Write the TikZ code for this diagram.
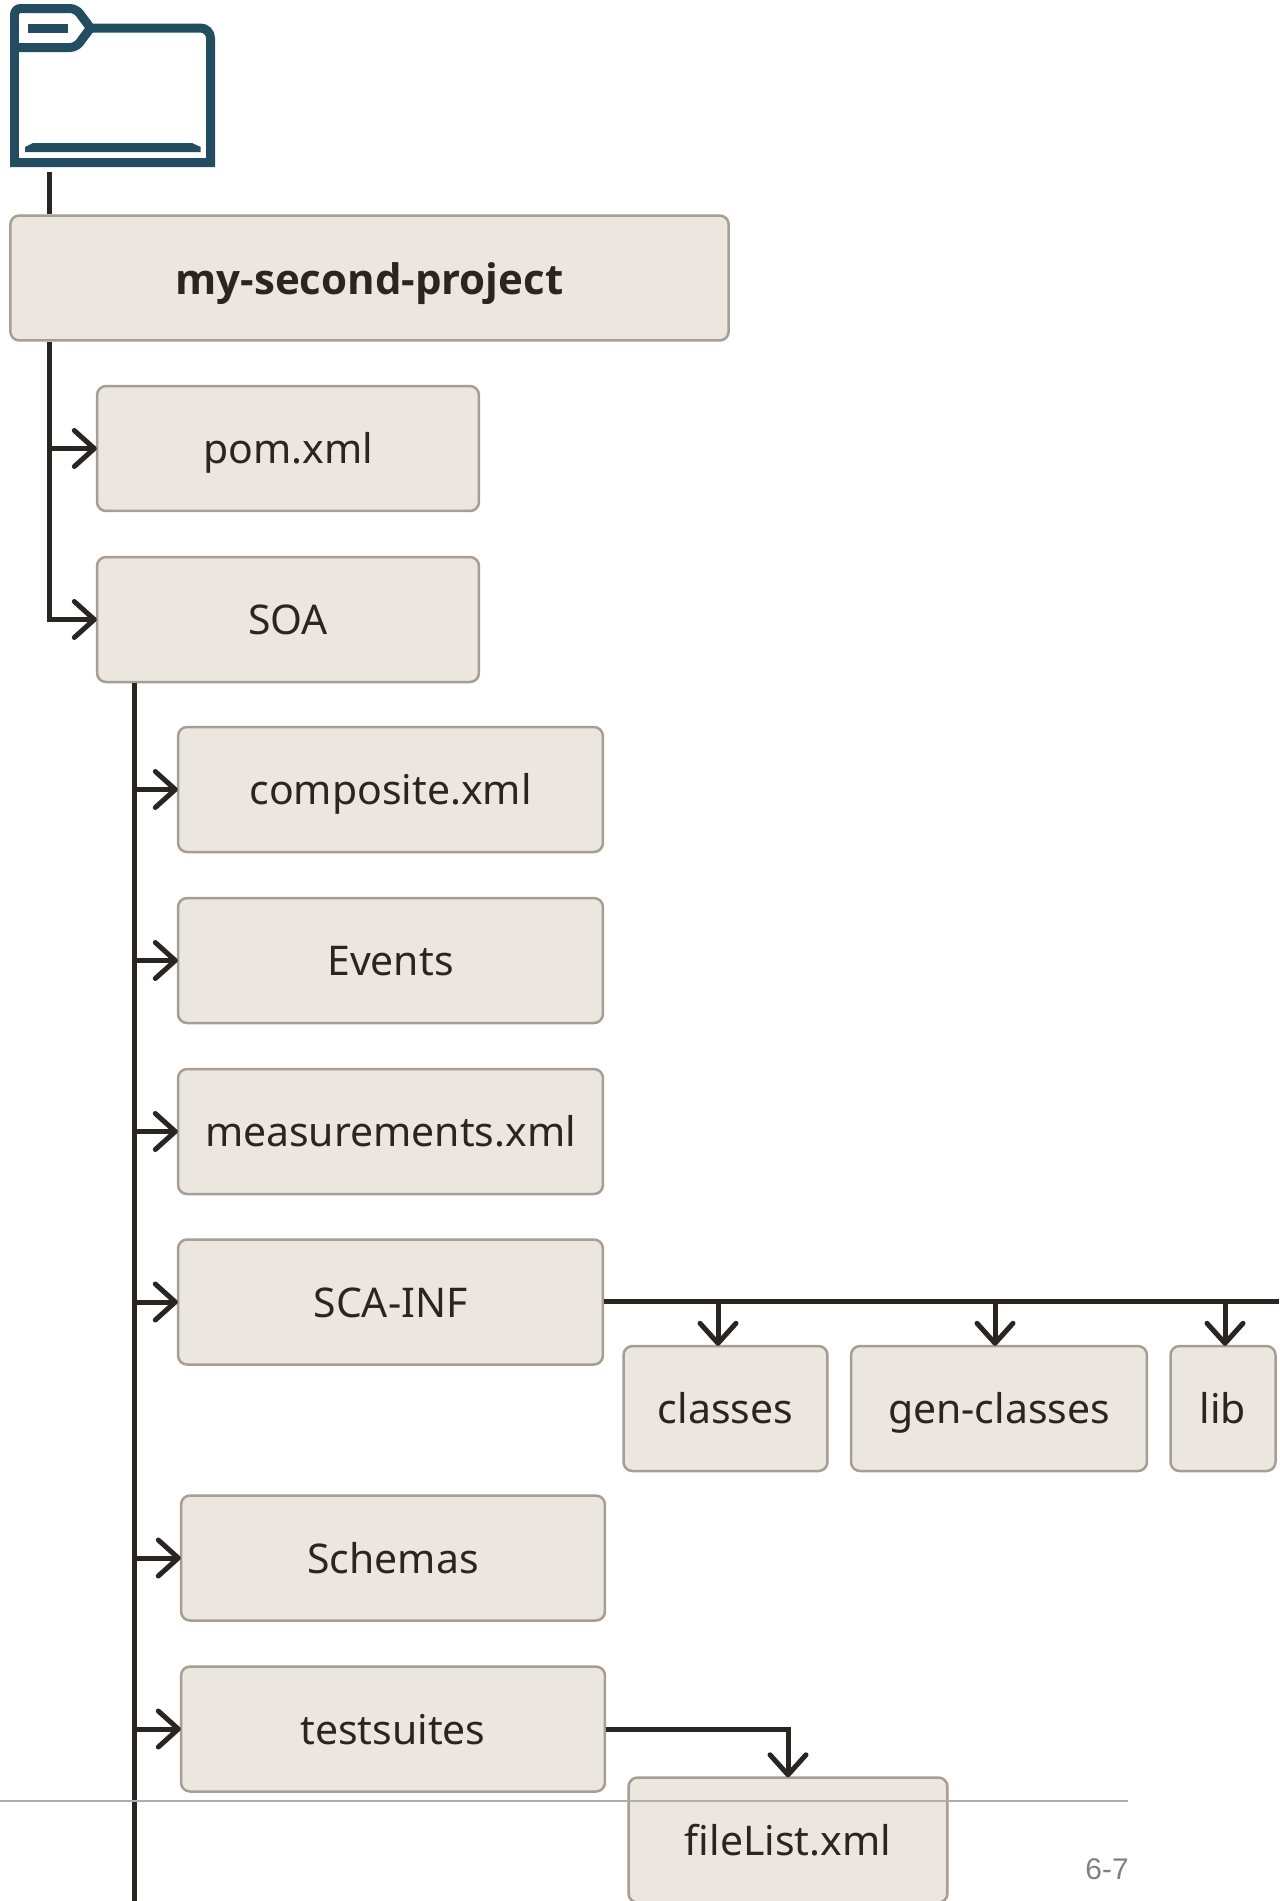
\documentclass[tikz,border=0pt]{standalone}
\usepackage{fontspec}
\setmainfont{Noto Sans}
\newfontfamily\titlefont{Open Sans}
\newfontfamily\pagefont{Liberation Sans}
\usetikzlibrary{arrows.meta}
\definecolor{boxfill}{HTML}{EBE6E0}
\definecolor{boxline}{HTML}{A89D92}
\definecolor{connline}{HTML}{2B2522}
\definecolor{foldercol}{HTML}{234E62}
\definecolor{ruleline}{HTML}{ADADAD}
\tikzset{
	box/.style={draw=boxline, fill=boxfill, line width=0.05cm, rounded corners=0.18cm, inner sep=0pt, text=connline, text height=18.6pt, text depth=1pt, font=\fontsize{23.3}{28}\selectfont},
	conn/.style={draw=connline, line width=0.1cm},
	connarrow/.style={conn, -{Straight Barb[length=0.4cm, width=0.72cm, line width=0.1cm, round]}, shorten >=-0.02cm}
}
\begin{document}
\begin{tikzpicture}[x=0.02cm, y=-0.02cm]
		\useasboundingbox (0,0) rectangle (1279,1901);
		\draw[foldercol, line width=0.18cm, fill=white, line join=miter] (14.5,162.5) [rounded corners=0.12cm] -- (14.5,8.5) -- (76,8.5) -- (86,22) [sharp corners] -- (90.5,28) -- (190,28) [rounded corners=0.2cm] -- (210.5,28) -- (210.5,50) [sharp corners] -- (210.5,162.5) -- cycle;
		\draw[foldercol, line width=0.18cm, line join=miter] (14.5,47.5) [rounded corners=0.12cm] -- (76,47.5) -- (86,34) [sharp corners] -- (90.5,28);
		\fill[foldercol] (28,24) rectangle (68,33);
		\fill[foldercol] (25,152) -- (25,147) -- (33,143) -- (192,143) -- (200.7,147) -- (200.7,152) -- cycle;

		\draw (369.5,278) node[box, minimum width=14.37cm, minimum height=2.5cm, text height=20pt, text depth=0.9pt, font=\titlefont\fontsize{23.9}{28}\selectfont\bfseries] (project) {my-second-project}
		(288,448.5) node[box, minimum width=7.64cm, minimum height=2.5cm] (pom) {pom.xml}
		(288,619.5) node[box, minimum width=7.64cm, minimum height=2.5cm] (soa) {SOA}
		(390.5,789.5) node[box, minimum width=8.5cm, minimum height=2.5cm] (composite) {composite.xml}
		(390.5,960.5) node[box, minimum width=8.5cm, minimum height=2.5cm] (events) {Events}
		(390.5,1131.5) node[box, minimum width=8.5cm, minimum height=2.5cm] (measurements) {measurements.xml}
		(390.5,1302) node[box, minimum width=8.5cm, minimum height=2.5cm] (scainf) {SCA-INF}
		(725.5,1408.5) node[box, minimum width=4.08cm, minimum height=2.5cm] (classes) {classes}
		(999,1408.5) node[box, minimum width=5.92cm, minimum height=2.5cm] (genclasses) {gen-classes}
		(1223,1408.5) node[box, minimum width=2.1cm, minimum height=2.5cm] (lib) {lib}
		(393,1558) node[box, minimum width=8.48cm, minimum height=2.5cm] (schemas) {Schemas}
		(393,1729) node[box, minimum width=8.48cm, minimum height=2.5cm] (testsuites) {testsuites}
		(788,1840) node[box, minimum width=6.38cm, minimum height=2.5cm] (filelist) {fileList.xml};

		\coordinate (rootx) at (49,172);
		\coordinate (soax) at (134,1901);
		\coordinate (busend) at (1279,1301);
		\coordinate (classesx) at (718,1301);
		\coordinate (genx) at (995,1301);
		\coordinate (libx) at (1225,1301);

		\draw[conn] (rootx) -- (rootx |- project.north);
		\draw[connarrow] (rootx |- project.south) |- (pom);
		\draw[connarrow] (rootx |- project.south) |- (soa);
		\draw[conn] (soax |- soa.south) -- (soax);
		\draw[connarrow] (soax |- composite) -- (composite);
		\draw[connarrow] (soax |- events) -- (events);
		\draw[connarrow] (soax |- measurements) -- (measurements);
		\draw[connarrow] (soax |- scainf) -- (scainf);
		\draw[connarrow] (soax |- schemas) -- (schemas);
		\draw[connarrow] (soax |- testsuites) -- (testsuites);
		\draw[conn] (scainf.east |- busend) -- (busend);
		\draw[connarrow] (classesx) -- (classesx |- classes.north);
		\draw[connarrow] (genx) -- (genx |- genclasses.north);
		\draw[connarrow] (libx) -- (libx |- lib.north);
		\draw[connarrow] (testsuites) -| (filelist);

		\draw[ruleline, line width=0.03cm] (0,1801) coordinate (ruleleft) -- (1128,1801) coordinate (ruleright);
		\node[anchor=east, inner sep=0pt, text=gray, font=\pagefont\fontsize{17}{20}\selectfont] (pagenum) at (1129,1869) {6-7};
	\end{tikzpicture}
\end{document}
